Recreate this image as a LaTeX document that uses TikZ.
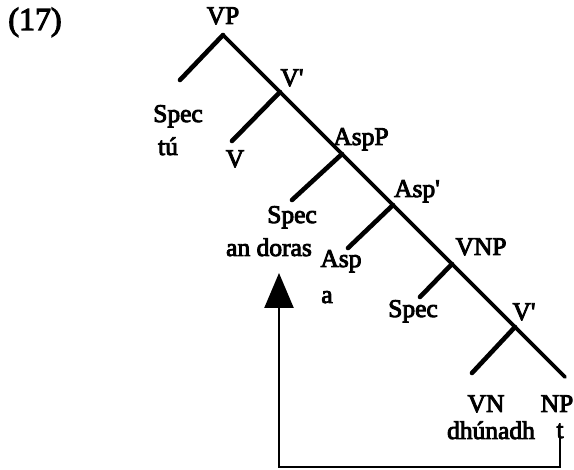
\documentclass[tikz,border=0pt]{standalone}
\usepackage{fontspec}
\newfontfamily\treefont{Liberation Serif}[BoldFont={Liberation Serif},BoldFeatures={FakeBold=3.5}]
\usetikzlibrary{arrows.meta}
\begin{document}
\begin{tikzpicture}[x=1pt,y=-1pt,
  lbl/.style={anchor=base,inner sep=0pt,font=\treefont\bfseries\fontsize{25.5}{30}\selectfont},
  spine/.style={line width=3.6pt,line cap=round},
  branch/.style={line width=4.6pt,line cap=round},
  movearrow/.style={line width=2.4pt,-{Triangle[width=29pt,length=35pt]}}]
\useasboundingbox (0,0) rectangle (574,470);
% spine vertices
\coordinate (vp) at (223,35);
\coordinate (vbar) at (280,92);
\coordinate (aspp) at (342,154);
\coordinate (aspbar) at (393,205);
\coordinate (vnp) at (452,264);
\coordinate (vbarb) at (515,327);
\coordinate (np) at (565,377);
% branch ends
\coordinate (e1) at (180,80);
\coordinate (e2) at (232,141);
\coordinate (e3) at (292,200);
\coordinate (e4) at (348,248);
\coordinate (e5) at (420,297);
\coordinate (e6) at (472,373);
\draw[spine] (vp) -- (vbar) -- (aspp) -- (aspbar) -- (vnp) -- (vbarb) -- (np);
\draw[branch] (vp) -- (e1);
\draw[branch] (vbar) -- (e2);
\draw[branch] (aspp) -- (e3);
\draw[branch] (aspbar) -- (e4);
\draw[branch] (vnp) -- (e5);
\draw[branch] (vbarb) -- (e6);
% labels
\node[lbl,font=\treefont\bfseries\fontsize{32}{38}\selectfont] (ex) at (35,30) {(17)};
\node[lbl] (lvp) at (223,24) {VP};
\node[lbl] (lvbar) at (292,86) {V'};
\node[lbl] (lspec1) at (178,122) {Spec};
\node[lbl] (ltu) at (168,155) {tú};
\node[lbl] (lv) at (235,167) {V};
\node[lbl] (laspp) at (361,145) {AspP};
\node[lbl] (lspec2) at (292,223) {Spec};
\node[lbl] (ldoras) at (269,256) {an doras};
\node[lbl] (lasp) at (341,267) {Asp};
\node[lbl] (la) at (327,303) {a};
\node[lbl] (laspbar) at (417,197) {Asp'};
\node[lbl] (lvnp) at (481,255) {VNP};
\node[lbl] (lspec3) at (413,317) {Spec};
\node[lbl] (lvbarb) at (524,320) {V'};
\node[lbl] (lvn) at (486,412) {VN};
\node[lbl] (lnp) at (557,412) {NP};
\node[lbl] (ldhun) at (491,439) {dhúnadh};
\node[lbl] (lt) at (560,438) {t};
% movement arrow
\coordinate (bot) at (279,467);
\coordinate (tip) at (279,273);
\draw[movearrow] (lt.south) -- (lt.south |- bot) -- (bot) -- (tip);
\end{tikzpicture}
\end{document}
